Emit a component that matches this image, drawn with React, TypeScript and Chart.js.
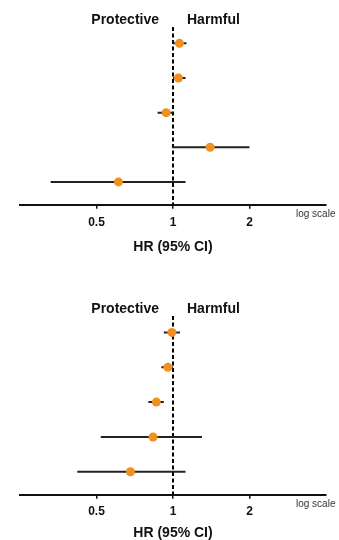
import React, { useEffect, useRef } from "react";
import { Chart, registerables } from "chart.js";

Chart.register(...registerables);

const tickValues = [0.5, 1, 2];
const tickLabels = ["0.5", "1", "2"];

const topHR = [1.06, 1.05, 0.94, 1.4, 0.61];
const topLow = [1.0, 1.0, 0.87, 0.99, 0.33];
const topHigh = [1.13, 1.12, 1.0, 2.0, 1.12];

const bottomHR = [0.99, 0.955, 0.86, 0.835, 0.68];
const bottomLow = [0.92, 0.9, 0.8, 0.52, 0.42];
const bottomHigh = [1.065, 1.0, 0.92, 1.3, 1.12];

const ORANGE = "#F0901E";
const FONT = "'Liberation Sans', Arial, sans-serif";

const annotatePlugin = {
  id: "annotate",
  beforeDatasetsDraw(chart: any) {
    const { ctx, chartArea, scales } = chart;
    const x1 = scales.x.getPixelForValue(1);
    ctx.save();
    ctx.strokeStyle = "#000";
    ctx.lineWidth = 2;
    ctx.setLineDash([4, 2.5]);
    ctx.beginPath();
    ctx.moveTo(x1, chartArea.top + 1);
    ctx.lineTo(x1, chartArea.bottom);
    ctx.stroke();
    ctx.restore();
  },
  afterDraw(chart: any) {
    const { ctx, chartArea, scales } = chart;
    const x1 = scales.x.getPixelForValue(1);
    ctx.save();
    ctx.fillStyle = "#111";
    ctx.font = `bold 14px ${FONT}`;
    ctx.textBaseline = "middle";
    ctx.textAlign = "right";
    ctx.fillText("Protective", x1 - 14, chartArea.top - 6);
    ctx.textAlign = "left";
    ctx.fillText("Harmful", x1 + 14, chartArea.top - 6);
    ctx.font = `10px ${FONT}`;
    ctx.fillStyle = "#333";
    ctx.textAlign = "left";
    ctx.fillText("log scale", chartArea.right - 30, chartArea.bottom + 9);
    ctx.restore();
  },
};

function ForestChart({
  hr,
  low,
  high,
  height,
  tickPad,
  titlePad,
}: {
  hr: number[];
  low: number[];
  high: number[];
  height: number;
  tickPad: number;
  titlePad: number;
}) {
  const ref = useRef<HTMLCanvasElement | null>(null);
  useEffect(() => {
    if (!ref.current) return;
    const ciSets = hr.map((_, i) => ({
      type: "scatter" as const,
      data: [
        { x: low[i], y: i },
        { x: high[i], y: i },
      ],
      showLine: true,
      borderColor: "#222",
      borderWidth: 2,
      pointRadius: 0,
      order: 2,
    }));
    const pointSet = {
      type: "scatter" as const,
      data: hr.map((v, i) => ({ x: v, y: i })),
      backgroundColor: ORANGE,
      borderColor: ORANGE,
      pointRadius: 4.5,
      borderWidth: 0,
      order: 1,
    };
    const chart = new Chart(ref.current, {
      type: "scatter",
      data: { datasets: [...ciSets, pointSet] as any },
      options: {
        animation: false,
        responsive: false,
        events: [],
        layout: { padding: { left: 20, right: 13, top: 26, bottom: 0 } },
        plugins: { legend: { display: false }, tooltip: { enabled: false } },
        scales: {
          x: {
            type: "logarithmic",
            min: 0.25,
            max: 4,
            afterBuildTicks: (axis: any) => {
              axis.ticks = tickValues.map((v) => ({ value: v }));
            },
            ticks: {
              autoSkip: false,
              maxRotation: 0,
              color: "#111",
              padding: tickPad,
              font: { family: FONT, size: 12, weight: "bold" },
              callback: (v: any) => {
                const i = tickValues.indexOf(Number(v));
                return i >= 0 ? tickLabels[i] : "";
              },
            },
            grid: {
              display: true,
              drawOnChartArea: false,
              drawTicks: true,
              tickLength: 4,
              color: "#111",
              lineWidth: 1.5,
            },
            border: { display: true, color: "#111", width: 2 },
            title: {
              display: true,
              text: "HR (95% CI)",
              color: "#111",
              font: { family: FONT, size: 14, weight: "bold" },
              padding: { top: titlePad, bottom: 0 },
            },
          },
          y: {
            type: "linear",
            display: false,
            reverse: true,
            min: -0.5,
            max: 4.66,
          },
        },
      },
      plugins: [annotatePlugin],
    });
    return () => chart.destroy();
  }, []);
  return <canvas ref={ref} width={339} height={height} style={{ display: "block", width: 339, height }} />;
}

export default function App() {
  return (
    <div
      style={{
        position: "fixed",
        left: 0,
        top: 0,
        width: 339,
        height: 540,
        background: "#fff",
        overflow: "hidden",
      }}
    >
      <div style={{ position: "absolute", left: 0, top: 0 }}>
        <ForestChart hr={topHR} low={topLow} high={topHigh} height={256} tickPad={7} titlePad={2} />
      </div>
      <div style={{ position: "absolute", left: 0, top: 289 }}>
        <ForestChart hr={bottomHR} low={bottomLow} high={bottomHigh} height={253} tickPad={6} titlePad={0} />
      </div>
    </div>
  );
}
